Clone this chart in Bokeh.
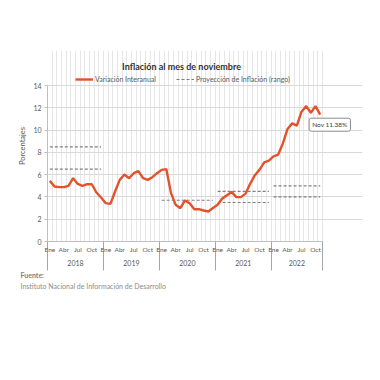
from bokeh.plotting import figure
from bokeh.models import Range1d, FixedTicker, LinearAxis, Label, Legend, LegendItem, ColumnDataSource, Title
from bokeh.embed import file_html
from bokeh.resources import INLINE

# ---- data ----
month_names = ["Ene", "Feb", "Mar", "Abr", "May", "Jun", "Jul", "Ago", "Sep", "Oct", "Nov", "Dic"]
years = ["2018", "2019", "2020", "2021", "2022"]
month_ticks_names = ["Ene", "Abr", "Jul", "Oct"]
inflation = [
    5.44, 4.94, 4.88, 4.88, 5.00, 5.68, 5.17, 5.00, 5.14, 5.14, 4.40, 3.95,   # 2018
    3.44, 3.38, 4.49, 5.53, 6.01, 5.68, 6.13, 6.31, 5.68, 5.53, 5.77, 6.13,   # 2019
    6.43, 6.49, 4.34, 3.29, 2.99, 3.68, 3.44, 2.90, 2.90, 2.78, 2.69, 3.00,   # 2020
    3.30, 3.85, 4.15, 4.45, 3.98, 3.98, 4.30, 5.20, 5.95, 6.45, 7.10, 7.25,   # 2021
    7.65, 7.80, 8.80, 10.10, 10.60, 10.40, 11.65, 12.15, 11.55, 12.15, 11.38,  # 2022
]
proj_year = ["2018", "2018", "2020", "2021", "2021", "2022", "2022"]
proj_value = [8.5, 6.5, 3.7, 4.5, 3.5, 5.0, 4.0]
y_ticks = [0, 2, 4, 6, 8, 10, 12, 14]
last_label = "Nov 11.38%"

FONT = "Lato"
ORANGE = "#E2522B"
GRAY_TXT = "#595959"

n = len(inflation)
x = list(range(n))
src = ColumnDataSource(dict(x=x, y=inflation))

px0 = [years.index(yy) * 12 for yy in proj_year]
px1 = [min(a + 11, n - 1) for a in px0]
psrc = ColumnDataSource(dict(x0=px0, x1=px1, y=proj_value))

# layout (figure pixels)
FL, FR, FT, FB = 47, 362, 50, 241          # frame box
PX_X = 275 / n                              # px per month
PX_Y = 156 / 14                             # px per percent
W, H = 366, 300
x_end = -0.5 + (FR - FL) / PX_X
y_end = (FB - FT) / PX_Y

p = figure(width=W, height=H, output_backend="svg", toolbar_location=None,
           x_range=Range1d(-0.5, x_end), y_range=Range1d(0, y_end),
           min_border_left=FL, min_border_right=W - FR, min_border_top=FT, min_border_bottom=H - FB,
           x_axis_location=None)
p.outline_line_color = None
p.background_fill_color = "white"

# grids
p.ygrid.ticker = FixedTicker(ticks=y_ticks)
p.ygrid.grid_line_color = "#d9d9d9"
p.ygrid.grid_line_width = 1
p.ygrid.bounds = (-0.5, n - 0.5)
p.xgrid.ticker = FixedTicker(ticks=[i - 0.5 for i in range(1, n + 1)])
p.xgrid.grid_line_color = "#e6e6e6"
p.xgrid.grid_line_width = 1
p.xgrid.bounds = (0, 14)

# y axis
ya = p.yaxis[0]
ya.ticker = FixedTicker(ticks=y_ticks)
ya.bounds = (0, 14)
ya.axis_line_color = "#bfbfbf"
ya.major_tick_line_color = "#bfbfbf"
ya.major_tick_out = 3
ya.major_tick_in = 0
ya.minor_tick_line_color = None
ya.major_label_standoff = 3
ya.major_label_text_font = FONT
ya.major_label_text_font_size = "7px"
ya.major_label_text_color = GRAY_TXT
ya.axis_label = "Porcentajes"
ya.axis_label_text_font = FONT
ya.axis_label_text_font_size = "7.5px"
ya.axis_label_text_font_style = "normal"
ya.axis_label_text_color = GRAY_TXT
ya.axis_label_standoff = 3

# month axis
mt = []
mo = {}
for yi in range(len(years)):
    for mname in month_ticks_names:
        idx = yi * 12 + month_names.index(mname)
        if idx < n:
            mt.append(idx)
            mo[idx] = mname
bounds = [yi * 12 - 0.5 for yi in range(len(years))] + [n - 0.5]
ma = LinearAxis(ticker=FixedTicker(ticks=mt, minor_ticks=bounds), major_label_overrides=mo)
ma.bounds = (-0.5, n - 0.5)
ma.axis_line_color = "#bfbfbf"
ma.major_tick_line_color = None
ma.minor_tick_line_color = "#a6a6a6"
ma.minor_tick_out = 29
ma.minor_tick_in = 0
ma.major_label_standoff = -25
ma.major_label_text_font = FONT
ma.major_label_text_font_size = "6.5px"
ma.major_label_text_color = GRAY_TXT
p.add_layout(ma, "below")

# year axis
yc = [min(yi * 12 + 5.5, (yi * 12 - 0.5 + n - 0.5) / 2) for yi in range(len(years))]
yo = {c: years[i] for i, c in enumerate(yc)}
yax = LinearAxis(ticker=FixedTicker(ticks=yc), major_label_overrides=yo)
yax.bounds = (-0.5, n - 0.5)
yax.axis_line_color = None
yax.major_tick_line_color = None
yax.minor_tick_line_color = None
yax.major_tick_out = 0
yax.minor_tick_out = 0
yax.major_label_standoff = 4
yax.major_label_text_font = FONT
yax.major_label_text_font_size = "7px"
yax.major_label_text_color = GRAY_TXT
p.add_layout(yax, "below")

# source titles below
p.add_layout(Title(text="Fuente:", align="left", offset=-27, standoff=1,
                   text_font=FONT, text_font_size="7px", text_font_style="bold",
                   text_color="#808080"), "below")
p.add_layout(Title(text="Instituto Nacional de Información de  Desarrollo", align="left",
                   offset=-27, standoff=1,
                   text_font=FONT, text_font_size="7px", text_font_style="normal",
                   text_color="#8c8c8c"), "below")

# glyphs
seg = p.segment(x0="x0", x1="x1", y0="y", y1="y", source=psrc,
                line_color="#7f7f7f", line_width=1.2, line_dash="3 2")
ln = p.line("x", "y", source=src, line_color=ORANGE, line_width=2.4)

legend = Legend(items=[LegendItem(label="Variación Interanual", renderers=[ln]),
                       LegendItem(label="Proyección de Inflación (rango)", renderers=[seg])],
                orientation="horizontal", location=(28, FB - 83), margin=0, padding=2,
                spacing=20, glyph_width=18, glyph_height=8, label_standoff=2,
                border_line_color=None, background_fill_alpha=0,
                label_text_font=FONT, label_text_font_size="7px", label_text_color=GRAY_TXT)
p.add_layout(legend)

# annotation on last point
p.add_layout(Label(x=x[-1], y=inflation[-1], text=last_label, x_offset=-11, y_offset=-10,
                   text_baseline="middle", text_align="left",
                   text_font=FONT, text_font_size="6.5px", text_color="#404040",
                   background_fill_color="white", border_line_color="#8c8c8c",
                   border_line_width=1, padding=3, border_radius=2))

# title
p.add_layout(Label(x=181 - FL, y=FB - 66, x_units="screen", y_units="screen",
                   text="Inflación al mes de noviembre", text_align="center", text_baseline="middle",
                   text_font=FONT, text_font_size="9px", text_font_style="bold", text_color="#333333"))

open("out.html", "w").write(file_html(p, INLINE))
